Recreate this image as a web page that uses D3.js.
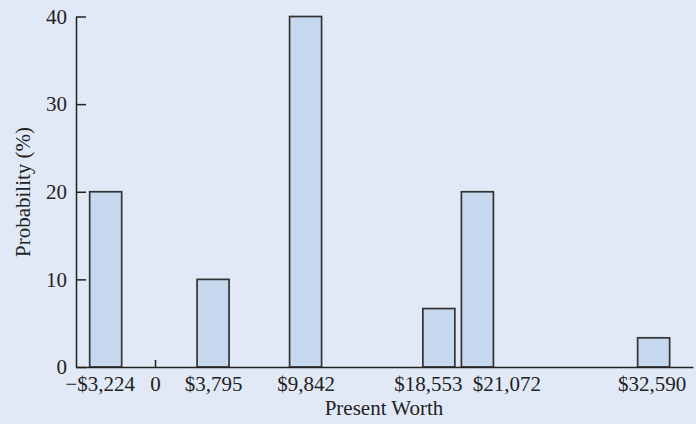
<!DOCTYPE html>
<html>
<head>
<meta charset="utf-8">
<script src="https://cdn.jsdelivr.net/npm/d3@7"></script>
<style>
  html, body { margin: 0; padding: 0; background: #e1e9f6; }
  svg { display: block; }
</style>
</head>
<body>
<svg id="chart" width="696" height="424"></svg>
<script>
// Present-worth outcomes and their probabilities (%)
const presentWorth = [-3224, 3795, 9842, 18553, 21072, 32590];
const probability = [20, 10, 40, 6.67, 20, 3.33];
const xTickValues = [-3224, 0, 3795, 9842, 18553, 21072, 32590];
const yTickValues = [0, 10, 20, 30, 40];

const W = 696, H = 424;
const FONT = "'Liberation Serif', 'Times New Roman', serif";
const INK = "#222";
const svg = d3.select("#chart");
svg.append("rect").attr("width", W).attr("height", H).attr("fill", "#e1e9f6");

const x = d3.scaleLinear().domain([-5163, 35163]).range([76, 693]);
const y = d3.scaleLinear().domain([0, 40]).range([367, 16.5]);
const barW = 32;

// Bars
svg.append("g")
  .selectAll("rect")
  .data(presentWorth.map((v, i) => ({ v, p: probability[i] })))
  .join("rect")
  .attr("x", d => x(d.v) - barW / 2)
  .attr("y", d => y(d.p))
  .attr("width", barW)
  .attr("height", d => y(0) - y(d.p))
  .attr("fill", "#c6d8ee")
  .attr("stroke", "#333")
  .attr("stroke-width", 1.7);

// Y axis with inward ticks
const yAxis = d3.axisLeft(y)
  .tickValues(yTickValues)
  .tickSize(-10)
  .tickSizeOuter(0)
  .tickPadding(9);
const gy = svg.append("g").attr("transform", `translate(${x.range()[0]},0)`).call(yAxis);
gy.select(".domain").attr("stroke", INK).attr("stroke-width", 1.5);
gy.selectAll(".tick line").attr("stroke", INK).attr("stroke-width", 1.5);
gy.selectAll("text").attr("font-size", 21).attr("fill", INK).attr("font-family", FONT);

// X axis: labels at each outcome, a single tick mark at zero
const fmt = v => v === 0 ? "0" : (v < 0 ? "\u2212" : "") + "$" + d3.format(",")(Math.abs(v));
// the two close labels are spread apart so they stay legible
const labelShift = v => v === -3224 ? -6 : v === 18553 ? -11 : v === 21072 ? 29 : v === 32590 ? -2 : 0;
const xAxis = d3.axisBottom(x)
  .tickValues(xTickValues)
  .tickFormat(fmt)
  .tickSize(0)
  .tickSizeOuter(0)
  .tickPadding(9);
const gx = svg.append("g").attr("transform", `translate(0,${y(0)})`).call(xAxis);
gx.select(".domain").attr("stroke", INK).attr("stroke-width", 1.5);
gx.selectAll(".tick line")
  .attr("stroke", INK).attr("stroke-width", 1.5)
  .attr("y2", d => d === 0 ? -7 : 0);
gx.selectAll("text").attr("font-size", 21).attr("fill", INK).attr("font-family", FONT)
  .attr("dx", d => labelShift(d));

// Axis titles
svg.append("text")
  .attr("x", 384)
  .attr("y", 415)
  .attr("text-anchor", "middle")
  .attr("font-size", 21)
  .attr("font-family", FONT)
  .attr("fill", INK)
  .text("Present Worth");

svg.append("text")
  .attr("transform", `translate(30,192) rotate(-90)`)
  .attr("text-anchor", "middle")
  .attr("font-size", 21)
  .attr("font-family", FONT)
  .attr("fill", INK)
  .text("Probability (%)");
</script>
</body>
</html>
